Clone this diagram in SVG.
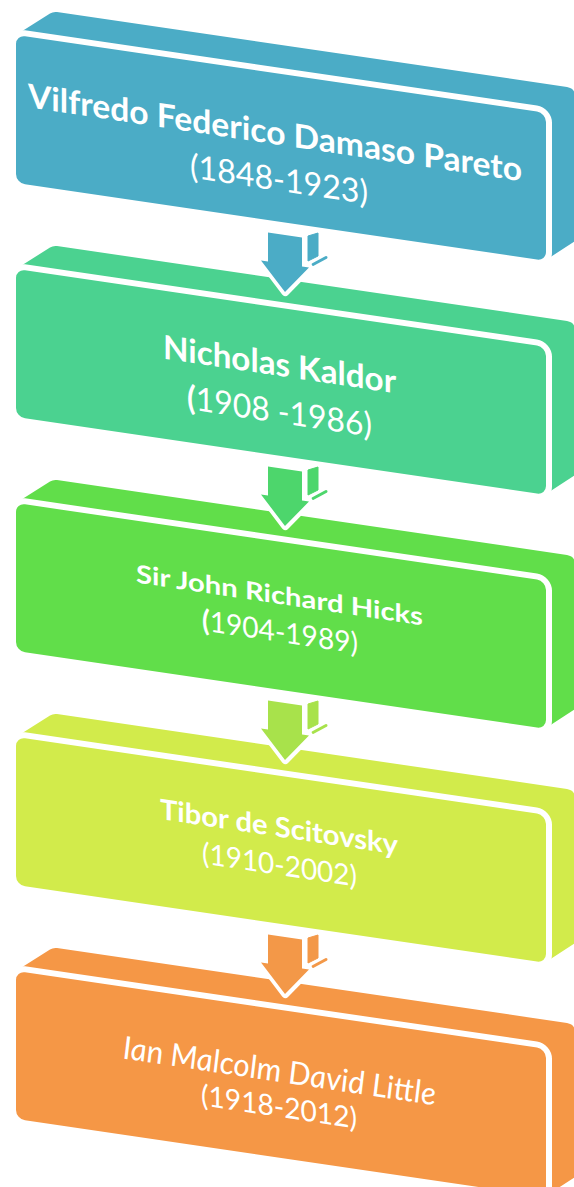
<svg xmlns="http://www.w3.org/2000/svg" width="574" height="1187" viewBox="0 0 574 1187">
<style>
.front{stroke:#fff;stroke-width:12;paint-order:stroke;stroke-linejoin:round}
.arrow{stroke:#fff;stroke-width:8;paint-order:stroke;stroke-linejoin:round}
.t{fill:#fff;font-family:Lato,"Open Sans","Liberation Sans",sans-serif;text-anchor:middle}
.b{font-weight:bold}
.r{font-weight:normal}
.i{font-style:italic}
</style>
<defs>
<path id="back" d="M16,35 L50,13.5 Q53,11.5 57,12 L567,87 Q575,88.5 575,96 L575,241 L546,260 Z"/>
<rect id="face" x="16" y="35" width="530" height="148" rx="9" transform="matrix(1,0.147,0,1,0,-2.35)"/>
<g id="arr">
<polygon points="308,236 318,233 318,256 308,261"/>
<line x1="313" y1="264.5" x2="326" y2="257.5" stroke-width="3" stroke-linecap="round"/>
<polygon class="arrow" points="268,235 302,235 302,264 309,264 285,292 261,264 268,264" transform="matrix(1,0.147,0,1,0,-41.9)"/>
</g>
</defs>
<g id="node1" fill="#4BACC6">
<use href="#back"/>
<use href="#face" class="front"/>
<g class="t" transform="matrix(1,0.15,0,1,0,-42)">
<text class="b" x="275" y="145" font-size="33" textLength="494" lengthAdjust="spacingAndGlyphs">Vilfredo Federico Damaso Pareto</text>
<text class="r" x="279" y="191" font-size="33" textLength="178" lengthAdjust="spacingAndGlyphs">(1848-1923)</text>
</g>
</g>
<g id="node2" fill="#4BD290" transform="translate(0,234)">
<use href="#back"/>
<use href="#face" class="front"/>
<g class="t" transform="matrix(1,0.15,0,1,0,-42)">
<text class="b" x="279.5" y="142" font-size="33" textLength="233" lengthAdjust="spacingAndGlyphs">Nicholas Kaldor</text>
<text class="r" x="279.5" y="189" font-size="33" textLength="185" lengthAdjust="spacingAndGlyphs"><tspan class="b">(</tspan>1908 -1986)</text>
</g>
</g>
<g id="node3" fill="#61DE4A" transform="translate(0,468)">
<use href="#back"/>
<use href="#face" class="front"/>
<g class="t" transform="matrix(1,0.15,0,1,0,-42)">
<text class="b" x="279.5" y="136" font-size="25" textLength="287" lengthAdjust="spacingAndGlyphs">Sir John Richard Hicks</text>
<text class="r" x="280" y="174" font-size="29" textLength="156" lengthAdjust="spacingAndGlyphs"><tspan class="b">(</tspan>1904-1989)</text>
</g>
</g>
<g id="node4" fill="#D2EB4B" transform="translate(0,702)">
<use href="#back"/>
<use href="#face" class="front"/>
<g class="t" transform="matrix(1,0.15,0,1,0,-42)">
<text class="b" x="279" y="135" font-size="28" textLength="238" lengthAdjust="spacingAndGlyphs">Tibor de Scitovsky</text>
<text class="r" x="279.5" y="173" font-size="29" textLength="155" lengthAdjust="spacingAndGlyphs">(1910-2002)</text>
</g>
</g>
<g id="node5" fill="#F59746" transform="translate(0,936)">
<use href="#back"/>
<use href="#face" class="front"/>
<g class="t" transform="matrix(1,0.15,0,1,0,-42)">
<text class="r i" x="279.5" y="146" font-size="32" textLength="313" lengthAdjust="spacingAndGlyphs">Ian Malcolm David Little</text>
<text class="r" x="279" y="181" font-size="29" textLength="156" lengthAdjust="spacingAndGlyphs">(1918-2012)</text>
</g>
</g>
<g id="connectors">
<use href="#arr" fill="#4BACC6" stroke="#4BACC6"/>
<use href="#arr" fill="#4DD66C" stroke="#4DD66C" transform="translate(0,234)"/>
<use href="#arr" fill="#A8E24B" stroke="#A8E24B" transform="translate(0,468)"/>
<use href="#arr" fill="#F39848" stroke="#F39848" transform="translate(0,702)"/>
</g>
</svg>
